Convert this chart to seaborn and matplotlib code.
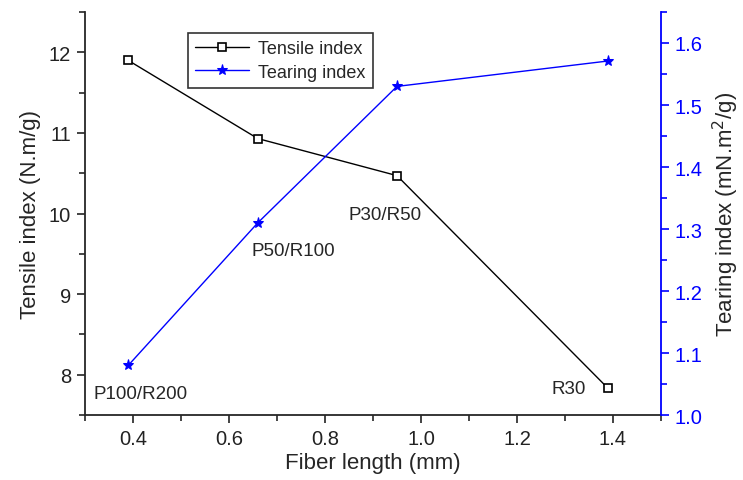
import seaborn as sns
import matplotlib.pyplot as plt
import pandas as pd
import numpy as np
from matplotlib.ticker import MultipleLocator

fiber_len = [0.39, 0.66, 0.95, 1.39]
tensile = [11.9, 10.93, 10.47, 7.83]
tearing = [1.08, 1.31, 1.53, 1.571]
sample_labels = ['P100/R200', 'P50/R100', 'P30/R50', 'R30']

df = pd.DataFrame({'len': fiber_len, 'tensile': tensile, 'tearing': tearing})

sns.set_style('ticks')
plt.rcParams['font.family'] = ['Liberation Sans', 'DejaVu Sans']

fig = plt.figure(figsize=(7.43, 4.81), dpi=100)
ax = fig.add_axes([0.1144, 0.135, 0.7752, 0.838])
ax2 = ax.twinx()

sns.lineplot(data=df, x='len', y='tensile', ax=ax, color='black', lw=1,
             marker='s', markersize=6, markerfacecolor='white',
             markeredgecolor='black', markeredgewidth=1.2, label='Tensile index', legend=False)
sns.lineplot(data=df, x='len', y='tearing', ax=ax2, color='blue', lw=1,
             marker='*', markersize=8, markeredgecolor='blue', label='Tearing index', legend=False)

ax.set_xlim(0.3, 1.5)
ax.set_ylim(7.5, 12.5)
ax2.set_ylim(1.0, 1.65)

ax.xaxis.set_major_locator(MultipleLocator(0.2))
ax.xaxis.set_minor_locator(MultipleLocator(0.1))
ax.yaxis.set_major_locator(MultipleLocator(1))
ax.yaxis.set_minor_locator(MultipleLocator(0.5))
ax2.yaxis.set_major_locator(MultipleLocator(0.1))
ax2.yaxis.set_minor_locator(MultipleLocator(0.05))
ax.xaxis.set_major_formatter(lambda v, p: f'{v:.1f}')
ax2.yaxis.set_major_formatter(lambda v, p: f'{v:.1f}')

for a in (ax, ax2):
    a.spines['top'].set_visible(False)
ax2.spines['left'].set_visible(False)
ax2.spines['bottom'].set_visible(False)
ax.spines['right'].set_visible(False)
ax2.spines['right'].set_color('blue')
ax2.spines['right'].set_linewidth(1.3)
ax.spines['left'].set_linewidth(1.3)
ax.spines['bottom'].set_linewidth(1.3)

ax.tick_params(which='major', length=6, width=1.2, labelsize=14.5, direction='out',
               colors='#222222', pad=4)
ax.tick_params(which='minor', length=4, width=1.2, direction='out')
ax2.tick_params(which='major', length=6, width=1.2, labelsize=14.5, direction='out',
                colors='blue', pad=4)
ax2.tick_params(which='minor', length=4, width=1.2, direction='out', colors='blue')

ax.set_xlabel('Fiber length (mm)', fontsize=16, labelpad=3)
ax.set_ylabel('Tensile index (N.m/g)', fontsize=16, labelpad=6)
ax2.set_ylabel('Tearing index (mN.m$^2$/g)', fontsize=16, labelpad=6)

# sample labels
ax.text(0.415, 7.77, sample_labels[0], fontsize=13.5, ha='center', va='center')
ax2.text(0.733, 1.265, sample_labels[1], fontsize=13.5, ha='center', va='center')
ax.text(0.925, 9.99, sample_labels[2], fontsize=13.5, ha='center', va='center')
ax.text(1.308, 7.83, sample_labels[3], fontsize=13.5, ha='center', va='center')

h1, l1 = ax.get_legend_handles_labels()
h2, l2 = ax2.get_legend_handles_labels()
leg = ax.legend(h1 + h2, l1 + l2, loc='upper left', bbox_to_anchor=(0.163, 0.97),
                fontsize=13, frameon=True, fancybox=False, edgecolor='black',
                handlelength=3, borderpad=0.4, labelspacing=0.35, handletextpad=0.5)
leg.get_frame().set_linewidth(1.2)

fig.savefig('out.png', dpi=100)
